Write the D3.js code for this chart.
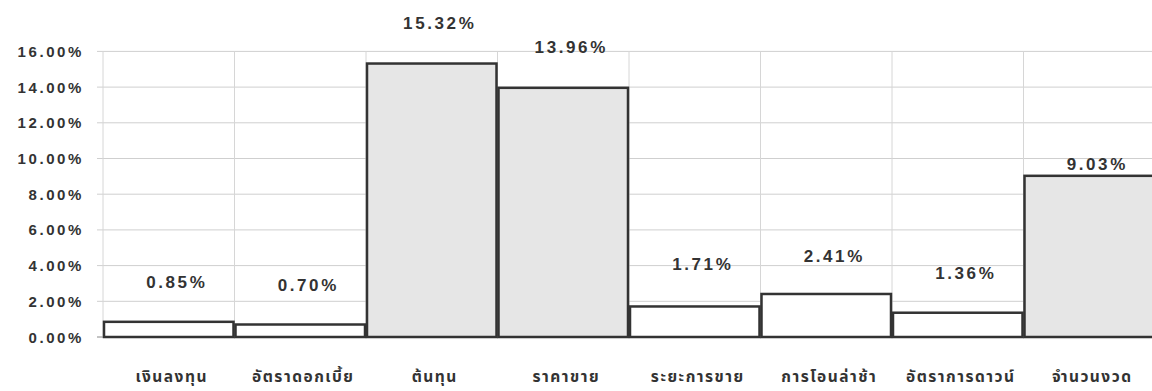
<!DOCTYPE html>
<html><head><meta charset="utf-8">
<script src="https://cdn.jsdelivr.net/npm/d3@7/dist/d3.min.js"></script>
<style>
html,body{margin:0;padding:0;background:#fff;}
svg{display:block;}
</style></head>
<body>
<svg id="c" width="1152" height="391"></svg>
<script>
const categories = ["เงินลงทุน","อัตราดอกเบี้ย","ต้นทุน","ราคาขาย","ระยะการขาย","การโอนล่าช้า","อัตราการดาวน์","จำนวนงวด"];
const values = [0.85, 0.70, 15.32, 13.96, 1.71, 2.41, 1.36, 9.03];
const yTicks = [0, 2, 4, 6, 8, 10, 12, 14, 16];
const shaded = [false, false, true, true, false, false, false, true];

const svg = d3.select("#c");
const x = d3.scaleBand().domain(categories).range([103, 1155]).padding(0);
const y = d3.scaleLinear().domain([0, 16]).range([337, 51.4]);
const labelDy = [40, 40, 41, 41, 42, 38, 40, 12];
const numFont = "'Liberation Sans', Arial, sans-serif";

// horizontal gridlines
svg.append("g").selectAll("line").data(yTicks).join("line")
  .attr("x1", 97).attr("x2", 1152)
  .attr("y1", d => y(d)).attr("y2", d => y(d))
  .attr("stroke", d => d === 0 ? "#888" : "#cfcfcf").attr("stroke-width", 1);

// vertical gridlines at band boundaries
svg.append("g").selectAll("line").data(categories).join("line")
  .attr("x1", d => x(d)).attr("x2", d => x(d))
  .attr("y1", y(16)).attr("y2", y(0))
  .attr("stroke", "#d6d6d6").attr("stroke-width", 1);

// y tick labels
svg.append("g").selectAll("text").data(yTicks).join("text")
  .attr("x", 84).attr("y", d => y(d) + 5.5)
  .attr("text-anchor", "end")
  .attr("font-family", numFont).attr("font-weight", "bold")
  .attr("font-size", 15).attr("letter-spacing", 2.6)
  .attr("fill", "#333")
  .text(d => d.toFixed(2) + "%");

// bars
svg.append("g").selectAll("rect").data(values).join("rect")
  .attr("x", (d, i) => x(categories[i]) + 1)
  .attr("y", d => y(d))
  .attr("width", x.bandwidth() - 2)
  .attr("height", d => y(0) - y(d))
  .attr("fill", (d, i) => shaded[i] ? "#e6e6e6" : "#fff")
  .attr("stroke", "#333").attr("stroke-width", 2.5);

// value labels
svg.append("g").selectAll("text").data(values).join("text")
  .attr("x", (d, i) => x(categories[i]) + x.bandwidth() / 2 + 8)
  .attr("y", (d, i) => y(d) - labelDy[i] + 6)
  .attr("text-anchor", "middle")
  .attr("font-family", numFont).attr("font-weight", "bold")
  .attr("font-size", 17).attr("letter-spacing", 2.6)
  .attr("fill", "#333")
  .text(d => d.toFixed(2) + "%");

// category labels
svg.append("g").selectAll("text").data(categories).join("text")
  .attr("x", d => x(d) + x.bandwidth() / 2 + 3)
  .attr("y", 382)
  .attr("text-anchor", "middle")
  .attr("font-family", "'Noto Sans Thai', 'Noto Sans', 'DejaVu Sans', sans-serif").attr("font-weight", "bold")
  .attr("font-size", 15.5).attr("letter-spacing", 1.5)
  .attr("fill", "#333")
  .text(d => d);
</script>
</body></html>
